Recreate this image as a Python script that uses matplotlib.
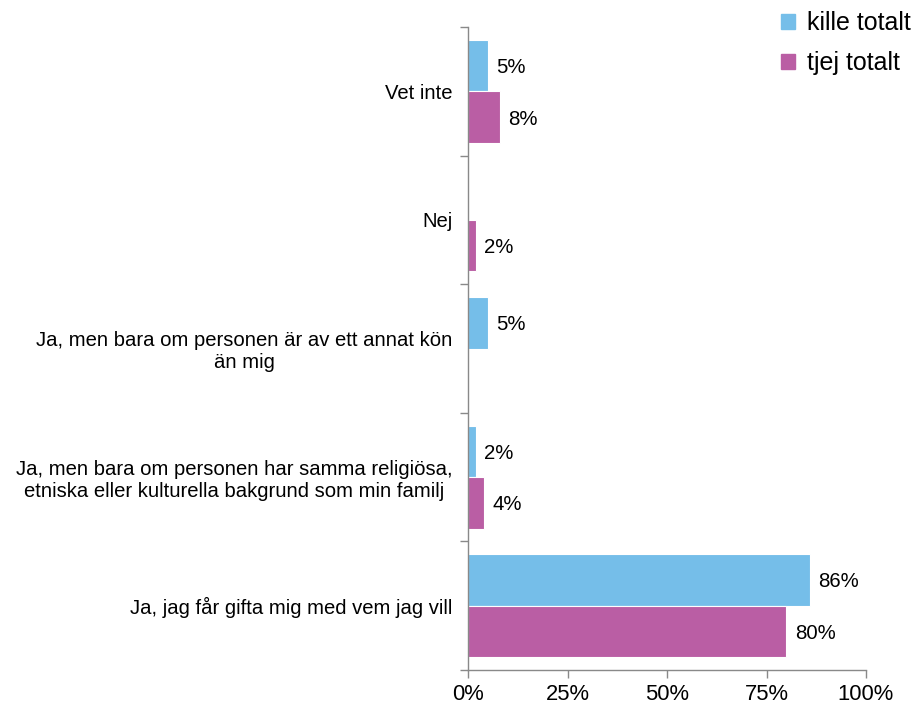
import matplotlib
matplotlib.use("Agg")
import matplotlib.pyplot as plt
import numpy as np
from matplotlib.patches import Patch

plt.rcParams['font.family'] = ['Liberation Sans', 'DejaVu Sans']

categories = [
    "Ja, jag får gifta mig med vem jag vill",
    "Ja, men bara om personen har samma religiösa,\netniska eller kulturella bakgrund som min familj",
    "Ja, men bara om personen är av ett annat kön\nän mig",
    "Nej",
    "Vet inte",
]
kille = [86, 2, 5, 0, 5]
tjej = [80, 4, 0, 2, 8]
series_names = ["kille totalt", "tjej totalt"]
colors = ["#75BEE9", "#BA5EA4"]
xticks = [0, 25, 50, 75, 100]
xticklabels = ["0%", "25%", "50%", "75%", "100%"]

fig = plt.figure(figsize=(9.16, 7.08), dpi=100)
ax = fig.add_axes([468/916, 1-670/708, (866-468)/916, (670-27)/708])

y = np.arange(len(categories))
h = 0.4
ax.barh(y + h/2, kille, height=h, color=colors[0], edgecolor="white", linewidth=0.8)
ax.barh(y - h/2, tjej, height=h, color=colors[1], edgecolor="white", linewidth=0.8)

for yi, v in zip(y + h/2, kille):
    if v > 0:
        ax.annotate(f"{v}%", (v, yi), xytext=(6, 0), textcoords="offset points",
                    va="center_baseline", ha="left", fontsize=14.7)
for yi, v in zip(y - h/2, tjej):
    if v > 0:
        ax.annotate(f"{v}%", (v, yi), xytext=(6, 0), textcoords="offset points",
                    va="center_baseline", ha="left", fontsize=14.7)

ax.set_xlim(0, 100)
ax.set_ylim(-0.5, len(categories) - 0.5)
ax.set_xticks(xticks)
ax.set_xticklabels(xticklabels, fontsize=15.8)
ax.set_yticks(y)
ax.set_yticklabels(categories, fontsize=14.6, ha="right", multialignment="center")
ax.set_yticks(np.arange(-0.5, len(categories)), minor=True)
ax.tick_params(axis="y", which="major", length=0, pad=11)
ax.tick_params(axis="y", which="minor", length=6, color="#898989", width=1)
ax.tick_params(axis="x", which="major", length=6, color="#898989", width=1, pad=4)

for s in ["top", "right"]:
    ax.spines[s].set_visible(False)
for s in ["left", "bottom"]:
    ax.spines[s].set_color("#898989")
    ax.spines[s].set_linewidth(1)

handles = [Patch(color=colors[0]), Patch(color=colors[1])]
fig.legend(handles, series_names, loc="upper left", bbox_to_anchor=(781/916, 1 - 11/708),
           frameon=False, fontsize=18, handlelength=0.55, handleheight=0.55,
           handletextpad=0.5, labelspacing=0.65, borderaxespad=0, borderpad=0)

fig.savefig("out.png", dpi=100)
